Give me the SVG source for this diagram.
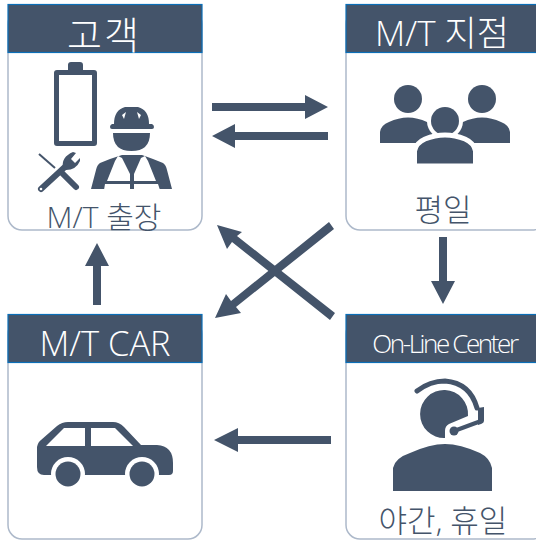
<svg xmlns="http://www.w3.org/2000/svg" width="536" height="540" viewBox="0 0 536 540">
<style>
.card{fill:#fff;stroke:#adb9ca;stroke-width:1.5}
.head{fill:#44546a;stroke:#0b6fb8;stroke-width:1.2}
.ic{fill:#44546a}
.ln{stroke:#44546a;fill:none}
.wh{fill:#fff}
.h{fill:#fff;font-family:"Open Sans","Noto Sans CJK KR",sans-serif;font-weight:300;text-anchor:middle;font-size:34.500px}
.b{fill:#44546a;font-family:"Open Sans","Noto Sans CJK KR",sans-serif;font-weight:300;text-anchor:middle;font-size:30px}
</style>
<rect width="536" height="540" fill="#fff"/>
<g id="connectors" fill="#44546a" stroke="none">
<path d="M212 103H305V95L328 107L305 119V111H212Z"/>
<path d="M328 132H235V124L212 136L235 148V140H328Z"/>
<path d="M439 237H447V281H455L443 304L431 281H439Z"/>
<path d="M93 305V266H85L97 243L109 266H101V305Z"/>
<path d="M331 436H238V428L214 440L238 452V444H331Z"/>
<path d="M335 313L330 320L232 242L227 249L217 225L242 232L237 236Z"/>
<path d="M329 222L334 229L236 307L241 313L215 318L226 294L231 301Z"/>
</g>
<g id="node-customer">
<rect class="card" x="8" y="10" width="194" height="220" rx="14"/>
<rect class="head" x="8" y="4.500" width="194" height="48"/>
<text class="h" x="104" y="49" style="font-size:38px;letter-spacing:2px">고객</text>
<path class="ic" d="M68 70V65Q68 62 71 62H80Q83 62 83 65V70H94Q97 70 97 73V143Q97 146 94 146H57Q54 146 54 143V73Q54 70 57 70ZM59 75V141H92V75Z"/>
<path class="ic" d="M114 124Q114 110 125 107H138Q149 110 149 124H152Q154 125 154 127Q154 129 152 129H112Q110 129 110 127Q110 125 112 124Z"/>
<path class="wh" d="M122 115L126 112L124 119ZM141 115L137 112L139 119Z"/>
<path class="ic" d="M113 133H150Q150 151 131.500 151Q113 151 113 133Z"/>
<path class="ic" d="M110 159L100 163Q97 165 96 170L91 189H172L167 170Q166 165 163 163L153 159L142 155H122Z"/>
<path class="wh" d="M115 161L107 181H130V174L122 158L118 156ZM148 161L156 181H134V174L141 158L145 156ZM105 184L104 190H130V184ZM158 184L160 190H134V184Z"/>
<path class="ln" stroke-width="2" d="M39 154L55 168"/>
<path class="ln" stroke-width="6" stroke-linecap="round" d="M61 172L76 187M41 189L67 165"/>
<path class="ic" d="M63 168Q61 157 73 152L76 153L71 159L75 163L80 158L80 161Q76 170 66 170Z"/>
<circle class="wh" cx="41" cy="189" r="1.300"/>
<text class="b" x="104" y="228">M/T 출장</text>
</g>
<g id="node-branch">
<rect class="card" x="346" y="10" width="200" height="220" rx="14"/>
<rect class="head" x="346" y="4.500" width="200" height="48"/>
<text class="h" x="442" y="46" style="font-size:35px">M/T 지점</text>
<path class="ic" d="M380 143V132Q381 125 389 122Q408 113 427 122Q433 125 434 132V143Z"/>
<path class="ic" d="M456 143V132Q457 125 463 122Q482 113 501 122Q509 125 510 132V143Z"/>
<circle class="ic" cx="408" cy="99" r="14"/>
<circle class="ic" cx="482" cy="99" r="14"/>
<circle class="wh" cx="445" cy="121" r="18"/>
<circle class="ic" cx="445" cy="121" r="14"/>
<path class="ic" stroke="#fff" stroke-width="5" d="M414.500 166V151Q416 143 425 139Q445 131 465 139Q474 143 475.500 151V166Z"/>
<text class="b" x="443" y="221" style="font-size:31px">평일</text>
</g>
<g id="node-car">
<rect class="card" x="8" y="320" width="194" height="219" rx="14"/>
<rect class="head" x="8" y="314.500" width="194" height="48"/>
<text class="h" x="105" y="356">M/T CAR</text>
<path class="ic" d="M37 447Q38 442 41 440L57 426Q62 422 68 422H113Q119 422 124 427L141 445H157Q173 446 173 463V471Q173 475 169 475H44Q37 475 37 467Z"/>
<circle class="wh" cx="68" cy="474" r="17"/>
<circle class="wh" cx="142" cy="474" r="17"/>
<rect class="wh" x="50" y="475" width="36" height="14"/>
<rect class="wh" x="124" y="475" width="36" height="14"/>
<circle class="ic" cx="68" cy="474" r="12.500"/>
<circle class="ic" cx="142" cy="474" r="12.500"/>
<path class="wh" d="M46 446L64 428H85V446ZM91 428H115L133 446H91Z"/>
</g>
<g id="node-online">
<rect class="card" x="346" y="320" width="200" height="219" rx="14"/>
<rect class="head" x="346" y="314.500" width="200" height="48"/>
<text class="h" x="444.500" y="353" style="font-size:26px;letter-spacing:-2.400px">On-Line Center</text>
<path class="ln" stroke-width="5" stroke-linecap="round" d="M417 391Q430 381 445 381Q470 383 477 408"/>
<path class="ic" d="M445 438A24 24 0 1 1 468 416L449 424Q445 426 445 431Z"/>
<path class="ic" d="M478 408L484 407V421Q484 423 481 424L478 425Z"/>
<path class="ln" stroke-width="4" d="M481 421L454 431"/>
<circle class="ic" cx="454" cy="431" r="4.500"/>
<path class="ic" d="M393 491V468Q395 458 410 453Q430 444 445 444Q460 444 480 453Q490 458 492 468V491Z"/>
<text class="b" x="443" y="532" style="font-size:31px">야간, 휴일</text>
</g>
</svg>
